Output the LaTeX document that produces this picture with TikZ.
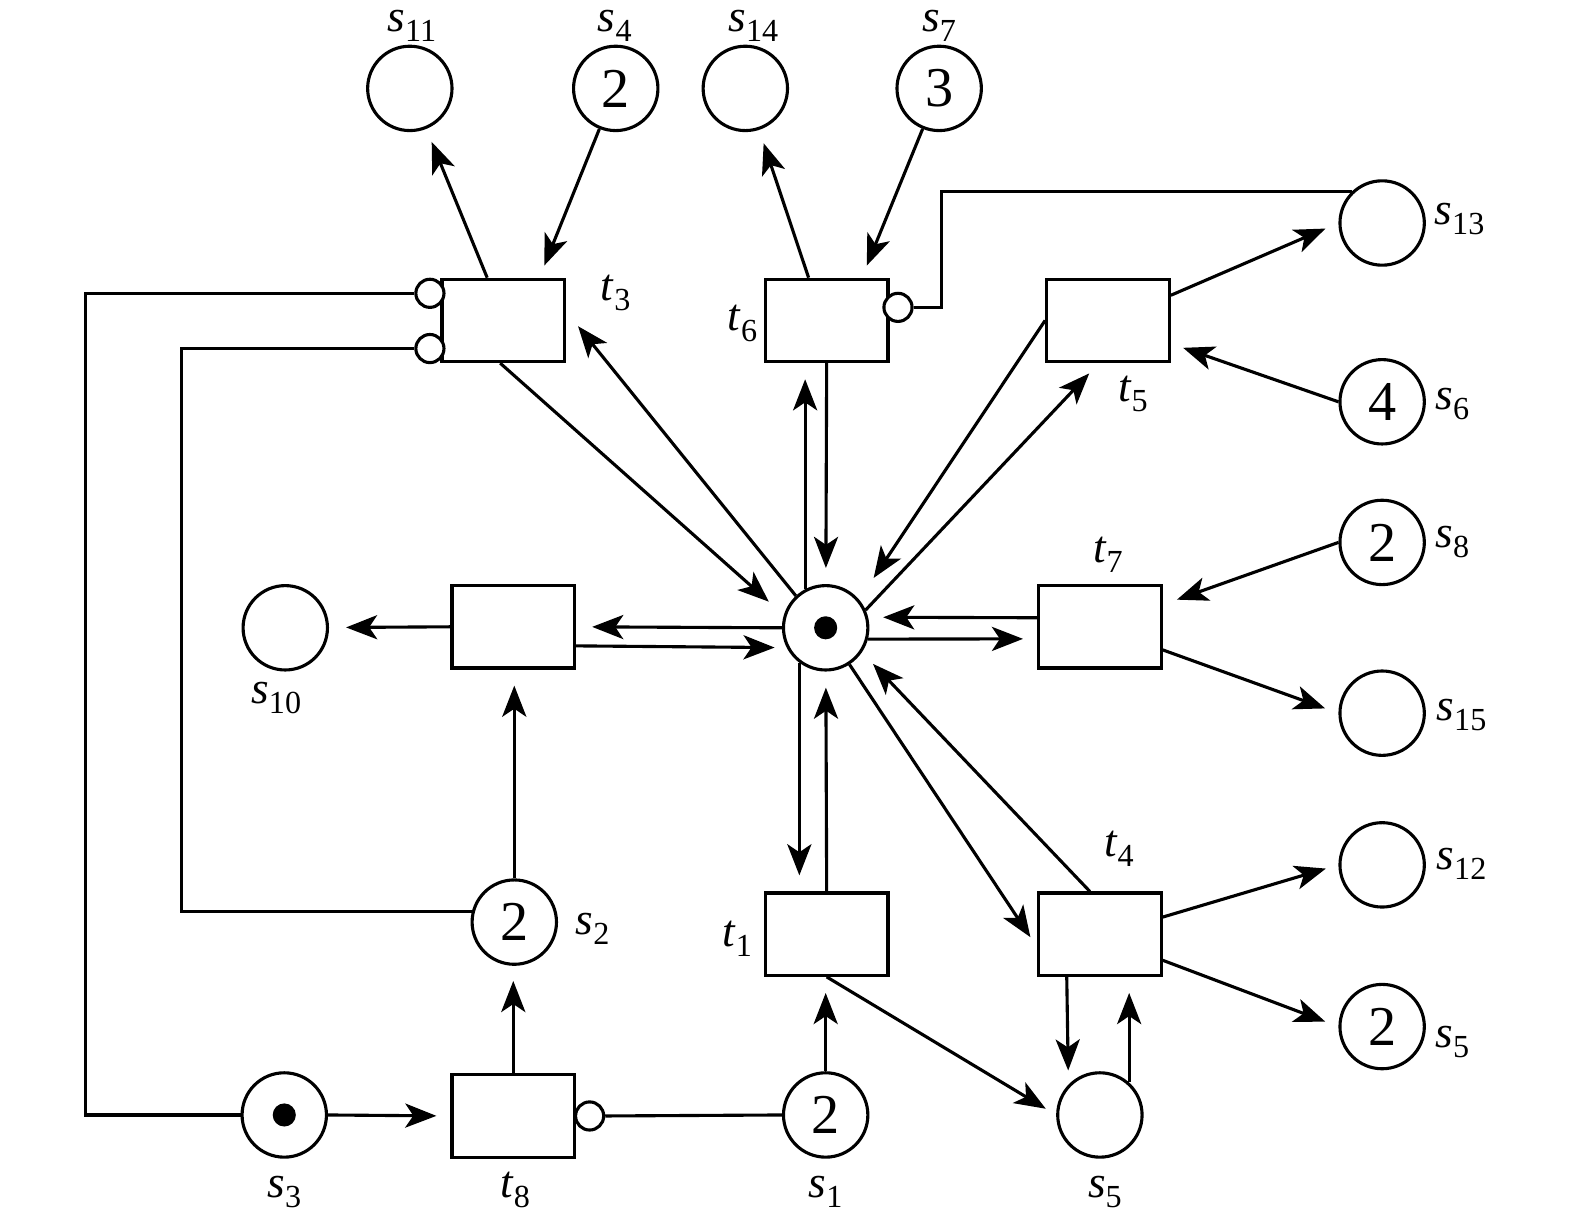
\documentclass[tikz,border=0pt]{standalone}
\usepackage{fontspec}
\setmainfont{Liberation Serif}
\usetikzlibrary{arrows.meta,calc}
\newcommand{\plab}[2]{\textit{#1}\raisebox{-10pt}{\fontsize{32}{32}\selectfont #2}}
\begin{document}
\begin{tikzpicture}[x=1pt,y=-1pt,
  line width=3.1pt,
  place/.style={circle,draw,minimum size=84pt,inner sep=0pt,font=\fontsize{56}{56}\selectfont},
  trans/.style={rectangle,draw,minimum width=122pt,minimum height=82pt,inner sep=0pt},
  inhib/.style={circle,draw,fill=white,minimum size=28pt,inner sep=0pt},
  lab/.style={inner sep=0pt,font=\fontsize{45}{45}\selectfont},
  arc/.style={-{Stealth[length=31pt,width=24pt,inset=8pt]}},
  tok/.style={circle,fill=black,minimum size=23pt,inner sep=0pt}]
\useasboundingbox (0,0) rectangle (1568,1208);
% places
\node[place] (s11) at (408,88) {};
\node[place] (s4) at (613,88) {2};
\node[place] (s14) at (742,88) {};
\node[place] (s7) at (935,88) {3};
\node[place] (s13) at (1376,222) {};
\node[place] (s6) at (1376,400) {4};
\node[place] (s8) at (1376,540) {2};
\node[place] (s15) at (1376,710) {};
\node[place] (s12) at (1376,861) {};
\node[place] (s5r) at (1376,1022) {2};
\node[place] (P) at (822,625) {};
\node[tok] (Pt) at (822,625) {};
\node[place] (s10) at (284,625) {};
\node[place] (s2) at (512,918) {2};
\node[place] (s3) at (283,1110) {};
\node[tok] (s3t) at (283,1110) {};
\node[place] (s1) at (822,1110) {2};
\node[place] (s5b) at (1095,1110) {};
% transitions
\node[trans] (t3) at (501,319) {};
\node[trans] (t6) at (823,319) {};
\node[trans] (t5) at (1103,319) {};
\node[trans] (t0) at (511,624) {};
\node[trans] (t7) at (1095,624) {};
\node[trans] (t4) at (1095,930) {};
\node[trans] (t1) at (823,930) {};
\node[trans] (t8) at (511,1111) {};
% inhibitor circles
\node[inhib] (i3a) at (428,292) {};
\node[inhib] (i3b) at (428,347) {};
\node[inhib] (i6) at (894,306) {};
\node[inhib] (i8) at (587,1111) {};
% labels
\node[lab] (l11) at (410,26) {\plab{s}{11}};
\node[lab] (l4) at (612,26) {\plab{s}{4}};
\node[lab] (l14) at (750,26) {\plab{s}{14}};
\node[lab] (l7) at (935,26) {\plab{s}{7}};
\node[lab] (l13) at (1453,218) {\plab{s}{13}};
\node[lab] (l6) at (1446,402) {\plab{s}{6}};
\node[lab] (l8) at (1446,540) {\plab{s}{8}};
\node[lab] (l15) at (1455,712) {\plab{s}{15}};
\node[lab] (l12) at (1455,860) {\plab{s}{12}};
\node[lab] (l5r) at (1446,1037) {\plab{s}{5}};
\node[lab] (lt3) at (613,292) {\plab{t}{3}};
\node[lab] (lt6) at (739,322) {\plab{t}{6}};
\node[lab] (lt5) at (1128,392) {\plab{t}{5}};
\node[lab] (lt7) at (1103,552) {\plab{t}{7}};
\node[lab] (lt4) at (1114,845) {\plab{t}{4}};
\node[lab] (lt1) at (734,935) {\plab{t}{1}};
\node[lab] (lt8) at (513,1185) {\plab{t}{8}};
\node[lab] (l10) at (275,695) {\plab{s}{10}};
\node[lab] (l2) at (590,925) {\plab{s}{2}};
\node[lab] (l3) at (283,1187) {\plab{s}{3}};
\node[lab] (l1) at (822,1187) {\plab{s}{1}};
\node[lab] (l5b) at (1100,1187) {\plab{s}{5}};
% arcs top
\draw[arc,shorten >=14pt] ([xshift=-16pt]t3.north) -- (s11);
\draw[arc,shorten >=13pt] (s4) -- ([xshift=36pt]t3.north);
\draw[arc,shorten >=14pt] ([xshift=-18pt]t6.north) -- (s14);
\draw[arc,shorten >=13pt] (s7) -- ([xshift=35pt]t6.north);
\draw (s13.134) -| ($(i6.east)+(28,0)$) -- (i6.east);
\draw[arc,shorten >=14pt] ([yshift=25pt]t5.east) -- (s13.west);
\draw[arc,shorten >=13pt] (s6.west) -- ([yshift=-23pt]t5.east);
% arcs around P
\draw[arc,shorten >=20pt] ([xshift=-3pt]t3.south) -- (P.163);
\draw[arc,shorten >=19pt] (P.133) -- ([yshift=9pt]t3.east);
\draw[arc,shorten >=16pt] (P.118) -- (P.118 |- t6.south);
\draw[arc,shorten >=16pt] (t6.south) -- (P);
\draw[arc,shorten >=14pt] (P.24) -- ([xshift=-9pt]t5.south);
\draw[arc,shorten >=26pt] (t5.west) -- (P.40);
\draw[arc,shorten >=16pt] (P.west) -- (t0.east);
\draw[arc,shorten >=12pt] ([yshift=-19pt]t0.east) -- (P.207);
\draw[arc,shorten >=17pt] (t0.west) -- (s10);
\draw[arc,shorten >=15pt] ([yshift=9pt]t7.west) -- (P.14);
\draw[arc,shorten >=14pt] (P.-15) -- ([yshift=-12pt]t7.west);
\draw[arc,shorten >=15pt] (s8.west) -- ([yshift=22pt]t7.east);
\draw[arc,shorten >=14pt] ([yshift=-23pt]t7.east) -- (s15.west);
\draw[arc,shorten >=13pt] ([yshift=17pt]t4.east) -- (s12.west);
\draw[arc,shorten >=14pt] ([yshift=-26pt]t4.east) -- (s5r.west);
\draw[arc,shorten >=12pt] (P.-57) -- ([yshift=-13pt]t4.west);
\draw[arc,shorten >=16pt] ([xshift=-10pt]t4.north) -- (P.-34);
\draw[arc,shorten >=14pt] ([xshift=-33pt]t4.south) -- (s5b.136);
\draw[arc,shorten >=16pt] (s5b.48) -- (s5b.48 |- t4.south);
\draw[arc,shorten >=16pt] (P.233) -- (P.233 |- t1.north);
\draw[arc,shorten >=16pt] (t1.north) -- (P);
\draw[arc,shorten >=16pt] (s1.north) -- (s1.north |- t1.south);
\draw[arc,shorten >=12pt] (t1.south) -- (s5b.west);
% bottom-left
\draw (s1.west) -- (i8.east);
\draw[arc,shorten >=15pt] (t8.north) -- (t8.north |- s2.south);
\draw[arc,shorten >=16pt] (s2.north) -- (s2.north |- t0.south);
\draw[arc,shorten >=14pt] (s3.east) -- (t8.west);
\draw (s3.west) -| ($(i3a.west)+(-327,0)$) -- (i3a.west);
\draw (s2.166) -| ($(i3b.west)+(-232,0)$) -- (i3b.west);
\end{tikzpicture}
\end{document}
